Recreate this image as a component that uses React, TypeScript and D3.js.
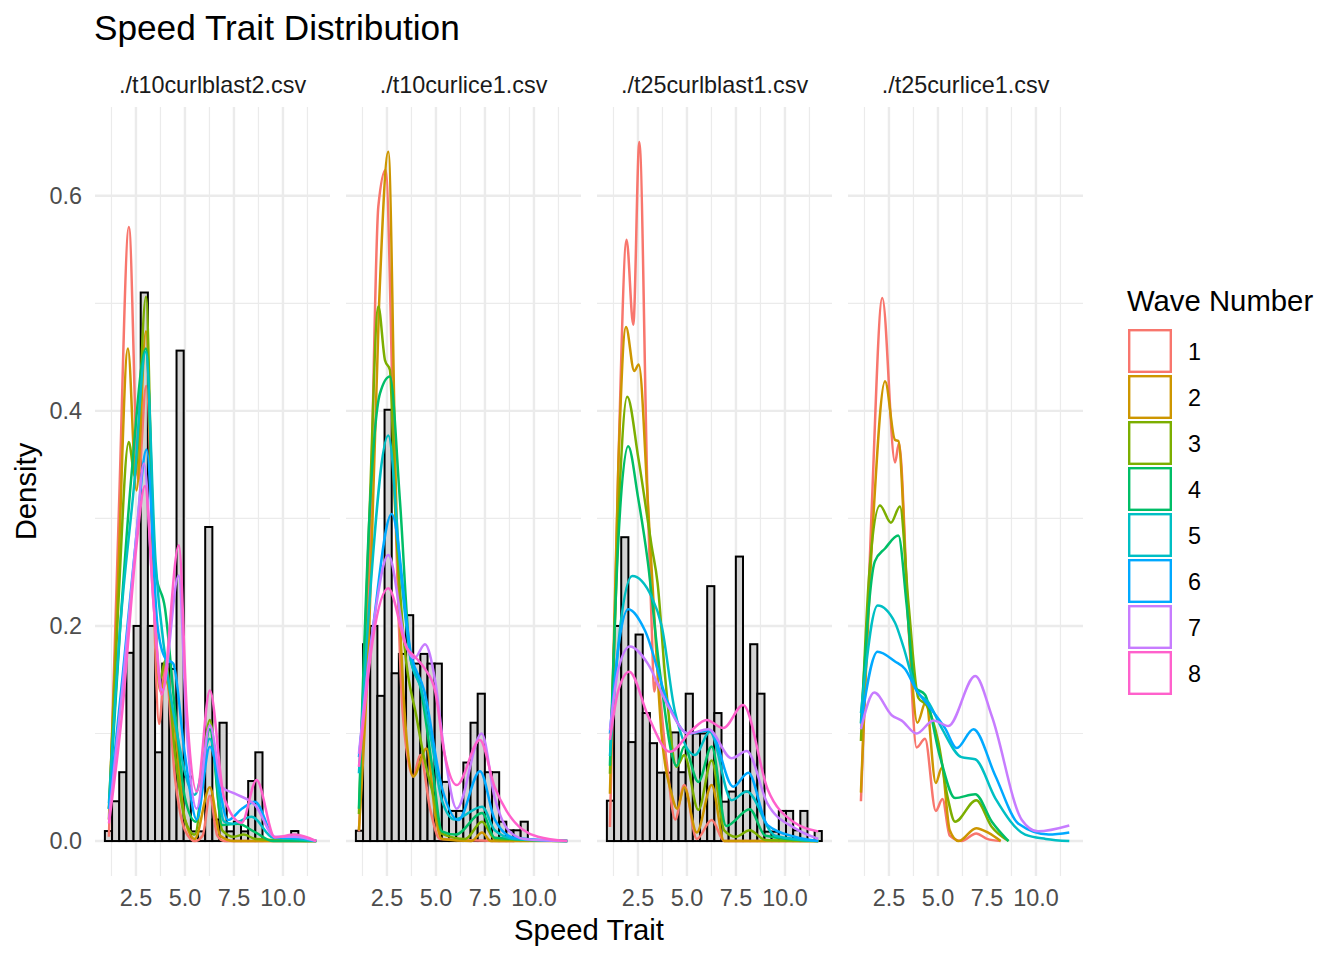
import React from 'react';
import * as d3 from 'd3';

type Pt = [number, number];

// facet labels, waves and colours
const facetLabels = ['./t10curlblast2.csv', './t10curlice1.csv', './t25curlblast1.csv', './t25curlice1.csv'];
const waveLabels = ['1', '2', '3', '4', '5', '6', '7', '8'];
const waveColors = ['#F8766D', '#CD9600', '#7CAE00', '#00BE67', '#00BFC4', '#00A9FF', '#C77CFF', '#FF61CC'];
const xTicks = [2.5, 5, 7.5, 10];
const xMinor = [1.25, 3.75, 6.25, 8.75, 11.25];
const yTicks = [0, 0.2, 0.4, 0.6];
const yMinor = [0.1, 0.3, 0.5];

// histogram bins (density per bin), 30 bins shared by all panels
const binStart = 0.915;
const binWidth = 0.3655;
const histBlast2 = [0.0093, 0.037, 0.064, 0.175, 0.2, 0.51, 0.2, 0.0825, 0.165, 0.16, 0.456, 0.06, 0.009, 0.009, 0.292, 0.02, 0.11, 0.009, 0.018, 0.009, 0.0558, 0.0825, 0, 0, 0, 0, 0.0093, 0, 0, 0];
const histCurlice1 = [0.0096, 0.183, 0.2, 0.135, 0.401, 0.156, 0.174, 0.21, 0.165, 0.174, 0.165, 0.165, 0.055, 0.028, 0.028, 0.073, 0.11, 0.137, 0.064, 0.064, 0.018, 0.01, 0.01, 0.018, 0, 0, 0, 0, 0, 0];
const histBlast1 = [0.0375, 0.2, 0.2825, 0.092, 0.192, 0.119, 0.091, 0.0636, 0.0636, 0.101, 0.064, 0.137, 0.1, 0.1, 0.237, 0.119, 0.0366, 0.046, 0.2645, 0.046, 0.183, 0.137, 0.0087, 0.0087, 0.028, 0.028, 0.01, 0.028, 0, 0.0093];

// density curves per wave: [speed, density]
const densBlast2: Pt[][] = [
  [[1.12, 0.004], [1.63, 0.308], [2.14, 0.571], [2.62, 0.335], [3.02, 0.423], [3.69, 0.109], [3.98, 0.165], [4.49, 0.059], [5.0, 0.01], [5.5, 0], [5.9, 0.005], [6.27, 0.042], [6.65, 0.005], [7.0, 0], [11.7, 0]],
  [[1.12, 0.02], [1.6, 0.25], [2.09, 0.458], [2.53, 0.326], [3.01, 0.474], [3.4, 0.25], [3.72, 0.14], [4.0, 0.15], [4.45, 0.11], [5.0, 0.02], [5.5, 0.002], [6.27, 0.05], [6.8, 0.005], [7.5, 0], [11.7, 0]],
  [[1.12, 0.03], [1.6, 0.22], [2.13, 0.371], [2.45, 0.339], [3.01, 0.506], [3.4, 0.25], [3.72, 0.15], [4.0, 0.168], [4.5, 0.08], [5.0, 0.02], [5.5, 0.006], [6.27, 0.1125], [6.9, 0.01], [7.5, 0.004], [8.0, 0.006], [8.6, 0.002], [11.7, 0]],
  [[1.12, 0.03], [1.7, 0.2], [2.28, 0.342], [3.01, 0.458], [3.5, 0.25], [3.98, 0.2165], [4.5, 0.12], [5.0, 0.04], [5.55, 0.018], [6.27, 0.104], [6.9, 0.015], [7.7, 0.016], [8.6, 0.008], [9.5, 0], [11.7, 0]],
  [[1.12, 0.035], [1.7, 0.2], [2.4, 0.33], [3.0, 0.455], [3.5, 0.26], [4.0, 0.17], [4.5, 0.11], [5.5, 0.043], [6.27, 0.095], [7.0, 0.018], [7.4, 0.016], [8.4, 0.0226], [9.5, 0.003], [10.6, 0.002], [11.7, 0]],
  [[1.12, 0.03], [1.8, 0.15], [2.5, 0.28], [3.04, 0.364], [3.6, 0.2], [4.0, 0.17], [4.4, 0.165], [5.0, 0.08], [5.6, 0.02], [6.27, 0.0877], [7.2, 0.0195], [7.9, 0.03], [8.57, 0.0366], [9.6, 0.003], [10.6, 0.003], [11.7, 0]],
  [[1.12, 0.02], [1.8, 0.14], [2.5, 0.28], [2.91, 0.351], [3.4, 0.22], [3.85, 0.14], [4.68, 0.247], [5.1, 0.1], [5.6, 0.03], [6.27, 0.108], [6.9, 0.05], [7.55, 0.044], [8.6, 0.033], [9.6, 0.004], [10.6, 0.004], [11.7, 0]],
  [[1.12, 0.0164], [1.8, 0.12], [2.5, 0.27], [2.96, 0.33], [3.4, 0.22], [3.81, 0.136], [4.69, 0.275], [5.1, 0.12], [5.6, 0.046], [6.27, 0.14], [7.0, 0.04], [7.89, 0.017], [8.65, 0.0567], [9.59, 0.0034], [10.6, 0.006], [11.7, 0]],
];

const densCurlice1: Pt[][] = [
  [[1.07, 0.009], [1.6, 0.25], [2.06, 0.59], [2.43, 0.624], [2.91, 0.317], [3.3, 0.12], [3.84, 0.06], [4.2, 0.08], [4.7, 0.03], [5.2, 0.002], [9.0, 0]],
  [[1.07, 0.01], [1.6, 0.2], [2.1, 0.5], [2.57, 0.641], [2.97, 0.317], [3.4, 0.12], [3.84, 0.06], [4.52, 0.086], [5.0, 0.02], [5.3, 0.002], [6.8, 0], [7.35, 0.008], [7.8, 0], [11.7, 0]],
  [[1.07, 0.025], [1.6, 0.3], [2.06, 0.497], [2.4, 0.447], [2.65, 0.438], [2.9, 0.317], [3.4, 0.18], [4.0, 0.116], [4.4, 0.077], [4.9, 0.04], [5.3, 0.007], [6.5, 0.002], [7.35, 0.018], [8.0, 0.002], [11.7, 0]],
  [[1.07, 0.03], [1.6, 0.3], [2.14, 0.416], [2.65, 0.432], [3.16, 0.317], [3.7, 0.17], [4.18, 0.145], [4.84, 0.065], [5.3, 0.009], [6.0, 0.006], [7.35, 0.026], [8.0, 0.003], [11.7, 0]],
  [[1.07, 0.063], [1.6, 0.22], [2.57, 0.377], [3.2, 0.25], [3.7, 0.17], [4.27, 0.14], [4.8, 0.09], [5.3, 0.038], [5.95, 0.02], [7.35, 0.032], [8.0, 0.01], [9.0, 0.002], [11.7, 0]],
  [[1.07, 0.078], [1.8, 0.2], [2.74, 0.304], [3.76, 0.171], [4.4, 0.14], [5.3, 0.05], [6.14, 0.0195], [7.25, 0.065], [8.0, 0.02], [9.0, 0.003], [11.7, 0]],
  [[1.07, 0.081], [1.8, 0.2], [2.57, 0.266], [3.5, 0.18], [3.9, 0.17], [4.44, 0.183], [4.95, 0.15], [5.45, 0.08], [6.06, 0.03], [7.33, 0.1], [8.0, 0.04], [8.7, 0.01], [9.5, 0.002], [11.7, 0]],
  [[1.07, 0.069], [1.8, 0.19], [2.57, 0.235], [3.5, 0.18], [4.0, 0.17], [4.44, 0.16], [4.95, 0.14], [5.45, 0.08], [6.06, 0.052], [7.24, 0.094], [8.0, 0.05], [8.6, 0.028], [10.2, 0.004], [11.7, 0]],
];

const densBlast1: Pt[][] = [
  [[1.07, 0.013], [1.5, 0.35], [1.92, 0.559], [2.26, 0.48], [2.57, 0.65], [2.99, 0.32], [3.2, 0.2], [3.33, 0.139], [3.45, 0.15], [3.96, 0.074], [4.4, 0.02], [4.86, 0.052], [5.5, 0.002], [6.26, 0.0195], [6.9, 0], [11.7, 0]],
  [[1.07, 0.044], [1.5, 0.35], [1.89, 0.478], [2.31, 0.437], [2.54, 0.443], [2.99, 0.32], [3.3, 0.22], [3.7, 0.1], [4.2, 0.045], [4.5, 0.03], [4.86, 0.05], [5.5, 0.008], [6.26, 0.052], [6.9, 0], [11.7, 0]],
  [[1.07, 0.0625], [1.5, 0.3], [1.95, 0.413], [2.52, 0.356], [3.2, 0.274], [3.5, 0.24], [3.9, 0.15], [4.47, 0.069], [4.86, 0.08], [5.58, 0.029], [6.26, 0.075], [6.9, 0.01], [7.5, 0.004], [8.2, 0.01], [9.0, 0.001], [11.7, 0]],
  [[1.07, 0.07], [1.5, 0.28], [2.0, 0.367], [2.5, 0.32], [3.0, 0.26], [3.6, 0.16], [4.47, 0.07], [4.86, 0.088], [5.58, 0.055], [6.26, 0.088], [7.0, 0.014], [8.2, 0.0295], [9.0, 0.005], [11.7, 0]],
  [[1.07, 0.079], [1.6, 0.2], [2.21, 0.2465], [3.2, 0.227], [3.71, 0.2], [4.39, 0.12], [5.41, 0.08], [6.17, 0.1017], [7.28, 0.038], [8.05, 0.046], [9.5, 0.005], [11.7, 0]],
  [[1.07, 0.1], [1.5, 0.18], [2.0, 0.2155], [2.85, 0.196], [4.05, 0.128], [5.07, 0.1], [6.17, 0.103], [7.36, 0.0505], [8.13, 0.0636], [9.1, 0.015], [10.5, 0.004], [11.7, 0]],
  [[1.07, 0.103], [1.5, 0.16], [2.09, 0.181], [3.0, 0.165], [4.05, 0.125], [5.07, 0.1], [6.09, 0.104], [7.28, 0.077], [8.05, 0.0837], [9.1, 0.035], [10.5, 0.012], [11.7, 0.002]],
  [[1.07, 0.094], [1.5, 0.14], [2.06, 0.1575], [3.03, 0.1157], [4.13, 0.083], [5.24, 0.103], [6.0, 0.1126], [6.85, 0.105], [7.87, 0.1265], [9.12, 0.048], [10.5, 0.017], [11.7, 0.009]],
];

const densCurlice25: Pt[][] = [
  [[1.07, 0.037], [1.6, 0.3], [2.16, 0.505], [2.81, 0.352], [3.01, 0.37], [3.5, 0.2], [3.91, 0.087], [4.34, 0.095], [4.89, 0.028], [5.23, 0.039], [5.6, 0.005], [6.2, 0], [6.95, 0.007], [7.5, 0.002], [8.2, 0]],
  [[1.07, 0.045], [1.7, 0.3], [2.3, 0.4275], [2.81, 0.373], [2.98, 0.372], [3.5, 0.2], [3.95, 0.11], [4.39, 0.13], [4.89, 0.054], [5.19, 0.068], [5.6, 0.01], [6.05, 0], [6.95, 0.012], [7.58, 0.0075], [8.2, 0]],
  [[1.07, 0.093], [1.5, 0.25], [2.04, 0.312], [2.6, 0.296], [3.06, 0.311], [3.5, 0.22], [4.0, 0.133], [4.43, 0.126], [5.02, 0.092], [5.5, 0.04], [5.87, 0.018], [6.95, 0.038], [7.75, 0.013], [8.6, 0]],
  [[1.07, 0.11], [1.78, 0.26], [2.3, 0.272], [2.98, 0.284], [3.4, 0.22], [3.83, 0.143], [4.34, 0.136], [5.11, 0.078], [5.87, 0.04], [6.9, 0.0436], [7.75, 0.018], [8.6, 0]],
  [[1.07, 0.119], [1.92, 0.219], [2.81, 0.203], [3.23, 0.181], [3.91, 0.14], [4.51, 0.129], [5.19, 0.105], [6.2, 0.078], [6.9, 0.076], [7.92, 0.04], [9.45, 0.006], [10.5, 0.002], [11.7, 0]],
  [[1.07, 0.109], [1.92, 0.176], [2.81, 0.167], [3.32, 0.16], [3.91, 0.14], [4.51, 0.126], [5.36, 0.105], [5.96, 0.0865], [6.81, 0.104], [7.92, 0.061], [9.11, 0.016], [10.65, 0.006], [11.7, 0.008]],
  [[1.07, 0.104], [1.75, 0.138], [2.64, 0.117], [3.15, 0.112], [3.91, 0.1], [4.77, 0.112], [5.53, 0.107], [6.9, 0.1535], [7.75, 0.116], [9.28, 0.0196], [10.1, 0.009], [11.7, 0.0144]],
];

const panelHist = [histBlast2, histCurlice1, histBlast1, null];
const panelDens = [densBlast2, densCurlice1, densBlast1, densCurlice25];

const W = 1344;
const H = 960;
const panelLeft = [95, 346, 597, 848];
const panelW = 235;
const panelTop = 107;
const panelBottom = 876;
const font = '"Liberation Sans", Arial, Helvetica, sans-serif';
const smallSize = 23.4;
const titleSize = 29.3;

const x = d3.scaleLinear().domain([0.41, 12.4]).range([0, panelW]);
const y = d3.scaleLinear().domain([-0.0325, 0.6825]).range([panelBottom, panelTop]);

const line = d3
  .line<Pt>()
  .x((d) => x(d[0]))
  .y((d) => y(d[1]))
  .curve(d3.curveMonotoneX);

const Panel: React.FC<{ idx: number }> = ({ idx }) => {
  const hist = panelHist[idx];
  const dens = panelDens[idx];
  return (
    <g transform={`translate(${panelLeft[idx]},0)`}>
      {yMinor.map((t) => (
        <line key={`ym${t}`} x1={0} x2={panelW} y1={y(t)} y2={y(t)} stroke="#EBEBEB" strokeWidth={1.2} />
      ))}
      {xMinor.map((t) => (
        <line key={`xm${t}`} x1={x(t)} x2={x(t)} y1={panelTop} y2={panelBottom} stroke="#EBEBEB" strokeWidth={1.2} />
      ))}
      {yTicks.map((t) => (
        <line key={`y${t}`} x1={0} x2={panelW} y1={y(t)} y2={y(t)} stroke="#EBEBEB" strokeWidth={2.4} />
      ))}
      {xTicks.map((t) => (
        <line key={`x${t}`} x1={x(t)} x2={x(t)} y1={panelTop} y2={panelBottom} stroke="#EBEBEB" strokeWidth={2.4} />
      ))}
      {hist &&
        hist.map((v, i) => {
          const x0 = binStart + i * binWidth;
          return (
            <rect
              key={`b${i}`}
              x={x(x0)}
              y={y(v)}
              width={x(x0 + binWidth) - x(x0)}
              height={y(0) - y(v)}
              fill="#D3D3D3"
              stroke="#000"
              strokeWidth={2}
            />
          );
        })}
      {dens.map((pts, w) => (
        <path key={`d${w}`} d={line(pts) || ''} fill="none" stroke={waveColors[w]} strokeWidth={2.5} />
      ))}
      <text
        x={panelW / 2}
        y={85}
        textAnchor="middle"
        dominantBaseline="central"
        fontSize={smallSize}
        fill="#1A1A1A"
        fontFamily={font}
      >
        {facetLabels[idx]}
      </text>
      {xTicks.map((t) => (
        <text
          key={`xl${t}`}
          x={x(t)}
          y={898}
          textAnchor="middle"
          dominantBaseline="central"
          fontSize={smallSize}
          fill="#4D4D4D"
          fontFamily={font}
        >
          {t.toFixed(1)}
        </text>
      ))}
    </g>
  );
};

const App: React.FC = () => {
  return (
    <svg
      width={W}
      height={H}
      style={{ position: 'absolute', left: 0, top: 0, background: '#fff' }}
      fontFamily={font}
    >
      <rect width={W} height={H} fill="#fff" />
      <text x={94} y={40} fontSize={35.2} fill="#000">
        Speed Trait Distribution
      </text>
      {yTicks.map((t) => (
        <text
          key={`yl${t}`}
          x={82}
          y={y(t)}
          textAnchor="end"
          dominantBaseline="central"
          fontSize={smallSize}
          fill="#4D4D4D"
        >
          {t.toFixed(1)}
        </text>
      ))}
      {facetLabels.map((f, i) => (
        <Panel key={f} idx={i} />
      ))}
      <text x={589} y={940} textAnchor="middle" fontSize={titleSize} fill="#000">
        Speed Trait
      </text>
      <text
        transform={`translate(36,${(panelTop + panelBottom) / 2}) rotate(-90)`}
        textAnchor="middle"
        fontSize={titleSize}
        fill="#000"
      >
        Density
      </text>
      <text x={1127} y={311} fontSize={titleSize} fill="#000">
        Wave Number
      </text>
      {waveLabels.map((lab, i) => (
        <g key={lab} transform={`translate(1128,${329 + i * 46})`}>
          <rect x={1.2} y={1.2} width={41.6} height={41.6} fill="#fff" stroke={waveColors[i]} strokeWidth={2.4} />
          <text x={60} y={23} dominantBaseline="central" fontSize={smallSize} fill="#000">
            {lab}
          </text>
        </g>
      ))}
    </svg>
  );
};

export default App;
